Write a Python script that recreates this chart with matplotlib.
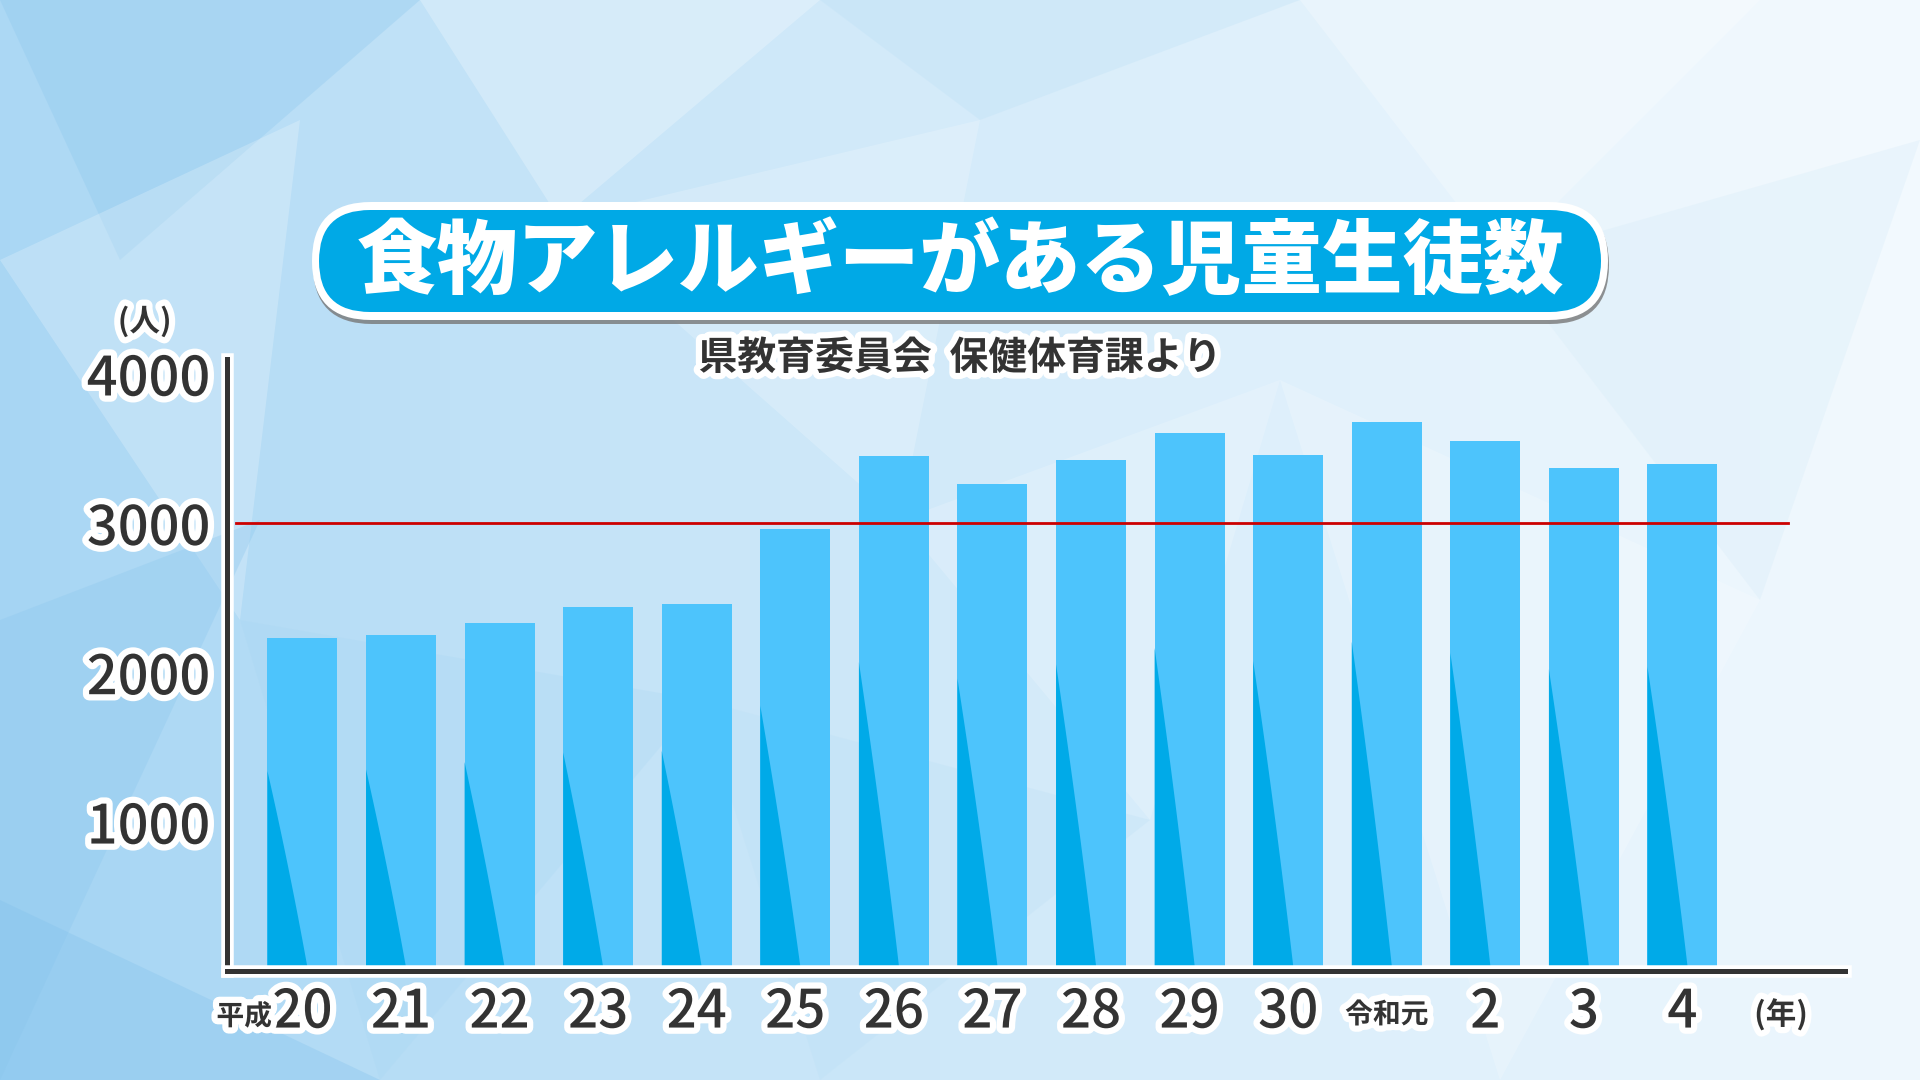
import numpy as np
import matplotlib
matplotlib.use("Agg")
import matplotlib.pyplot as plt
import matplotlib.patheffects as pe
from matplotlib.patches import FancyBboxPatch, Polygon
from matplotlib.transforms import blended_transform_factory

plt.rcParams['font.family'] = ['Noto Sans CJK JP', 'DejaVu Sans']

# data
years = ["20", "21", "22", "23", "24", "25", "26", "27", "28", "29", "30", "令和元", "2", "3", "4"]
prefix = {0: "平成"}
students = [2230, 2248, 2330, 2437, 2455, 2958, 3445, 3262, 3421, 3603, 3457, 3673, 3549, 3366, 3393]
yticks = [1000, 2000, 3000, 4000]
ref_value = 3000

title = "食物アレルギーがある児童生徒数"
source = "県教育委員会  保健体育課より"

LIGHT = "#4dc4fc"
DARK = "#00aae8"
INK = "#333333"
outline = [pe.Stroke(linewidth=9, foreground="white"), pe.Normal()]

fig = plt.figure(figsize=(19.2, 10.8), dpi=100)

# background in pixel coords
bg = fig.add_axes([0, 0, 1, 1], zorder=0)
bg.set_xlim(0, 1920)
bg.set_ylim(1080, 0)
bg.axis("off")
gx, gy = np.meshgrid(np.linspace(0, 1, 192), np.linspace(0, 1, 108))
t = np.clip(gx * 0.95 + (1 - gy) * 0.1, 0, 1) ** 0.7
c0 = np.array([155, 208, 242]) / 255
c1 = np.array([242, 249, 254]) / 255
img = c0[None, None, :] * (1 - t[..., None]) + c1[None, None, :] * t[..., None]
bg.imshow(img, extent=[0, 1920, 1080, 0], aspect="auto", zorder=0)

# faceted triangles
facets = [
    ([(0, 0), (420, 0), (120, 260)], "#8ec8ee", 0.35),
    ([(420, 0), (820, 0), (560, 220)], "white", 0.25),
    ([(0, 260), (300, 120), (240, 620)], "white", 0.22),
    ([(0, 620), (260, 520), (0, 1080)], "#8ec8ee", 0.35),
    ([(240, 620), (700, 700), (380, 1080)], "#a6d6f3", 0.25),
    ([(560, 220), (980, 120), (900, 520)], "white", 0.2),
    ([(820, 0), (1300, 0), (980, 120)], "#b5ddf5", 0.25),
    ([(900, 520), (1280, 380), (1150, 820)], "white", 0.18),
    ([(700, 700), (1150, 820), (820, 1080)], "#b8def5", 0.25),
    ([(1300, 0), (1760, 0), (1500, 260)], "white", 0.25),
    ([(1500, 260), (1920, 140), (1760, 600)], "#d5ebf8", 0.3),
    ([(1280, 380), (1760, 600), (1500, 1080)], "white", 0.2),
    ([(0, 900), (380, 1080), (0, 1080)], "#7fc0ec", 0.3),
]
for pts, col, a in facets:
    bg.add_patch(Polygon(pts, closed=True, facecolor=col, edgecolor="none", alpha=a, zorder=1))

# title pill
bg.add_patch(FancyBboxPatch((313, 206), 1296, 118, boxstyle="round,pad=0,rounding_size=59",
                            facecolor="#777777", edgecolor="none", alpha=0.8, zorder=2))
bg.add_patch(FancyBboxPatch((312, 202), 1296, 118, boxstyle="round,pad=0,rounding_size=59",
                            facecolor="white", edgecolor="none", zorder=3))
bg.add_patch(FancyBboxPatch((319, 210), 1282, 102, boxstyle="round,pad=0,rounding_size=51",
                            facecolor="#00a9e6", edgecolor="none", zorder=4))
bg.text(960, 263, title, fontsize=58, fontweight="heavy", color="white",
        ha="center", va="center", zorder=5)
bg.text(960, 358, source, fontsize=28, fontweight="bold", color=INK,
        ha="center", va="center", zorder=5, path_effects=outline)

# chart
ax = fig.add_axes([0.118, 0.101, 0.843, 0.567], zorder=2)
ax.patch.set_alpha(0)
x = np.arange(len(students))
w = 0.71
ax.bar(x, students, width=w, color=LIGHT, zorder=2)
for xi, h in zip(x, students):
    left = xi - w / 2
    s = np.linspace(0, 1, 20)
    ys = h * 0.60 * (1 - s)
    xs = left + w * 0.58 * (s + 0.12 * s * (1 - s))
    pts = [(left, 0), (left, h * 0.60)] + list(zip(xs, ys))[1:]
    ax.add_patch(Polygon(pts, closed=True, facecolor=DARK, edgecolor="none", zorder=3))

ax.axhline(ref_value, xmin=(-0.67 + 0.77) / 16.42, xmax=(15.07 + 0.77) / 16.42,
           color="#cc0000", linewidth=2.0, zorder=4)

ax.set_xlim(-0.77, 15.65)
ax.set_ylim(0, 4100)
for side in ["top", "right"]:
    ax.spines[side].set_visible(False)
for side in ["left", "bottom"]:
    ax.spines[side].set_color(INK)
    ax.spines[side].set_linewidth(3.6)
    ax.spines[side].set_path_effects([pe.Stroke(linewidth=9, foreground="white"), pe.Normal()])
    ax.spines[side].set_zorder(5)

ax.set_xticks([])
ax.set_yticks(yticks)
ax.set_yticklabels([str(v) for v in yticks], fontsize=39, fontweight="medium", color=INK)
ax.tick_params(axis="y", length=0, pad=12)
for lab in ax.get_yticklabels():
    lab.set_path_effects(outline)

trans = blended_transform_factory(ax.transData, ax.transAxes)
for i, lab in enumerate(years):
    if len(lab) > 2:
        ax.text(x[i], -0.072, lab, transform=trans, fontsize=20, fontweight="bold", color=INK,
                ha="center", va="center", path_effects=outline, clip_on=False)
    else:
        ax.text(x[i], -0.068, lab, transform=trans, fontsize=38, fontweight="medium", color=INK,
                ha="center", va="center", path_effects=outline, clip_on=False)
    if i in prefix:
        ax.text(x[i] - 0.31, -0.075, prefix[i], transform=trans, fontsize=20, fontweight="bold",
                color=INK, ha="right", va="center", path_effects=outline, clip_on=False)

ax.text(15.0, -0.072, "(年)", transform=trans, fontsize=22, fontweight="bold", color=INK,
        ha="center", va="center", path_effects=outline, clip_on=False)
ax.text(-0.77 - 0.83, 1.06, "(人)", transform=trans, fontsize=22, fontweight="bold", color=INK,
        ha="center", va="center", path_effects=outline, clip_on=False)

plt.savefig("out.png", dpi=100)
plt.close()
